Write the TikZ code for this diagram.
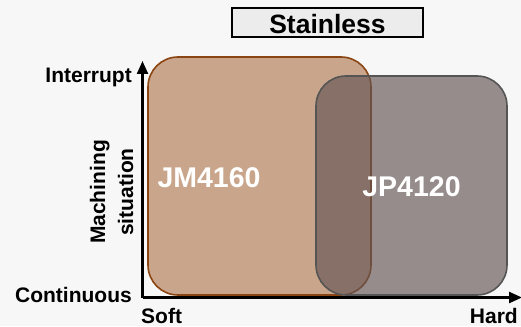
\documentclass[tikz,border=0pt]{standalone}
\usepackage{fontspec}
\setmainfont{Liberation Sans}
\usetikzlibrary{arrows.meta}
\definecolor{bg}{HTML}{F7F7F7}
\definecolor{titlefill}{HTML}{ECECEC}
\definecolor{brownfill}{HTML}{C9A68B}
\definecolor{brownline}{HTML}{8B4513}
\definecolor{grayfill}{HTML}{635454}
\definecolor{grayline}{HTML}{555555}
\tikzset{
  axislabel/.style={font=\fontsize{21}{24}\selectfont\bfseries, inner sep=0pt},
  gradelabel/.style={font=\fontsize{28.5}{32}\selectfont\bfseries, text=white, inner sep=0pt},
  axisline/.style={line width=2.3pt, -{Triangle[length=13pt,width=11pt]}},
  region/.style={line width=1.6pt, rounded corners=30pt}
}
\begin{document}
\begin{tikzpicture}[x=1pt,y=-1pt]
\fill[bg] (0,0) rectangle (521,326);
\useasboundingbox (0,0) rectangle (521,326);
% title
\node[draw=black, line width=1.4pt, fill=titlefill, minimum width=191pt, minimum height=29pt, inner sep=0pt] (title) at (327.5,22.5) {};
\node[font=\fontsize{26.5}{30}\selectfont\bfseries, anchor=base, inner sep=0pt] (titletext) at (327.5,33.3) {Stainless};
% regions
\draw[region, draw=brownline, fill=brownfill] (148,57) rectangle (371,295);
\draw[region, draw=grayline, fill=grayfill, fill opacity=0.65] (316,76) rectangle (507,295);
% axes
\coordinate (o) at (142.5,297.5);
\coordinate (ytip) at (142.5,61);
\coordinate (xtip) at (522,297.5);
\draw[axisline] (o) -- (ytip);
\draw[axisline] (o) -- (xtip);
% labels
\node[axislabel, anchor=base east] (interrupt) at (132,83) {Interrupt};
\node[axislabel, anchor=base east] (continuous) at (132,302) {Continuous};
\node[axislabel, anchor=base west] (soft) at (141,323) {Soft};
\node[axislabel, anchor=base east] (hard) at (518,323) {Hard};
\node[axislabel, anchor=base, rotate=90] (mach) at (105,192) {Machining};
\node[axislabel, anchor=base, rotate=90] (situ) at (133,192) {situation};
\node[gradelabel, anchor=base] (jm) at (209,187.3) {JM4160};
\node[gradelabel, anchor=base] (jp) at (411.5,196.7) {JP4120};
\end{tikzpicture}
\end{document}
